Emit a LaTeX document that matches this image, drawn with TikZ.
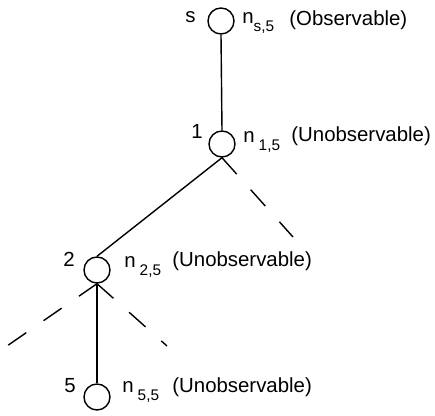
\documentclass[tikz,border=0pt]{standalone}
\usepackage{fontspec}
\setmainfont{Liberation Sans}
\usetikzlibrary{positioning}

\newcommand{\subsz}{\fontsize{7.7}{9}\selectfont}
\newcommand{\nlab}[2]{n\hspace{#1}\raisebox{-4pt}{\subsz #2}}

\begin{document}
\begin{tikzpicture}[
    x=0.5pt, y=-0.5pt,
    % Define styles
    vertex/.style={
        circle,
        draw=black,
        line width=0.7pt,
        minimum size=13pt,
        inner sep=0pt
    },
    edge/.style={
        line width=0.7pt,
        black
    },
    branch/.style={
        line width=0.7pt,
        black,
        dash pattern=on 11pt off 10.5pt
    },
    tag/.style={
        font=\fontsize{10.2}{12}\selectfont,
        anchor=base west,
        inner sep=0pt
    }
]
\useasboundingbox (0,0) rectangle (435,416);

% ============================================================
% Vertices
% ============================================================
\node[vertex] (s) at (221, 21) {};
\node[vertex] (v1) at (222, 144) {};
\node[vertex] (v2) at (97, 270) {};
\node[vertex] (v5) at (97, 397) {};

% free ends of the dashed branches
\coordinate (v1r) at (293, 237);
\coordinate (v2l) at (7, 346);
\coordinate (v2r) at (167, 346);

% ============================================================
% Labels
% ============================================================
\node[tag] (s_name) at (185, 23) {s};
\node[tag] (s_n) at (242, 24) {\nlab{0pt}{s,5}};
\node[tag] (s_obs) at (289, 26) {(Observable)};

\node[tag] (v1_name) at (191, 139) {1};
\node[tag] (v1_n) at (243, 143) {\nlab{2pt}{1,5}};
\node[tag] (v1_obs) at (291, 142) {(Unobservable)};

\node[tag] (v2_name) at (63, 267) {2};
\node[tag] (v2_n) at (124, 268) {\nlab{2pt}{2,5}};
\node[tag] (v2_obs) at (172, 267) {(Unobservable)};

\node[tag] (v5_name) at (64, 393) {5};
\node[tag] (v5_n) at (122, 393) {\nlab{2pt}{5,5}};
\node[tag] (v5_obs) at (172, 393) {(Unobservable)};

% ============================================================
% Connections
% ============================================================
\draw[edge] (s.south) -- (v1.north);
\draw[edge] (v1.south) -- (v2.north);
\draw[edge] (v2.south) -- (v5.north);

% dashed branches
\draw[branch] (v1.south) -- (v1r);
\draw[branch] (v2.south) -- (v2l);
\draw[branch] (v2.south) -- (v2r);

\end{tikzpicture}
\end{document}
